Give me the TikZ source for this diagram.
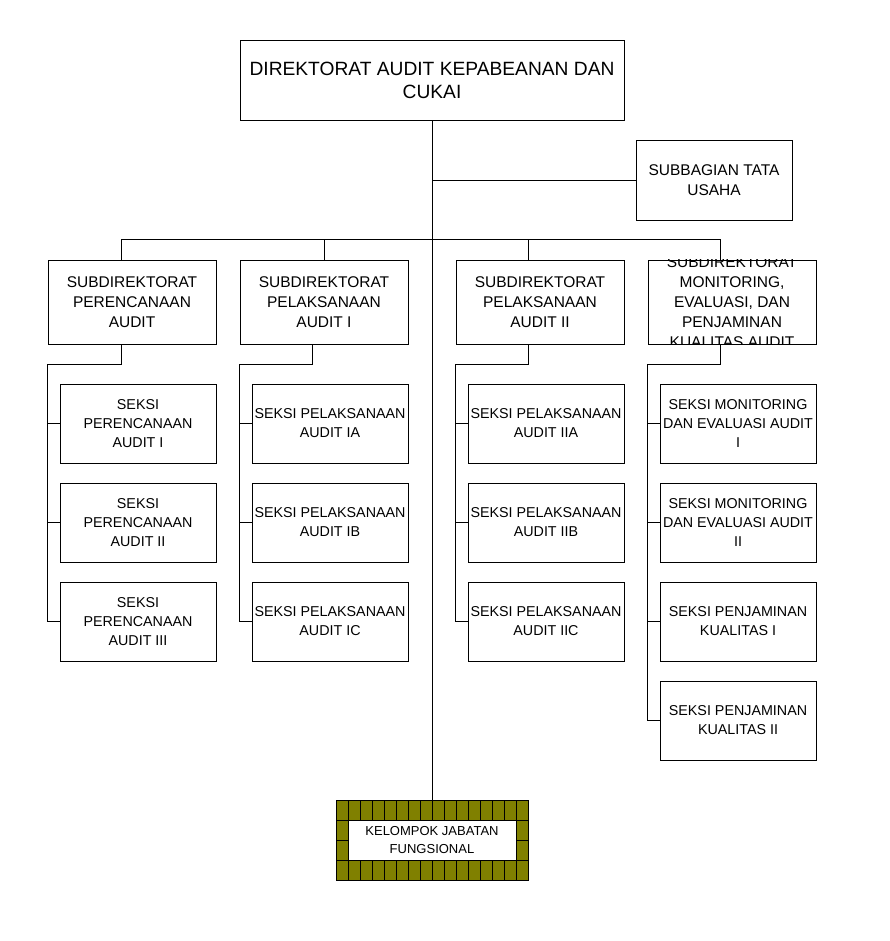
\documentclass[tikz,border=0pt]{standalone}
\usepackage{fontspec}
\setmainfont{Liberation Sans}
\usepackage{xcolor}
\usepackage{tikz}
\definecolor{kjolive}{RGB}{128,128,0}
\tikzset{
  unitbox/.style={draw, rectangle, align=center, inner sep=0pt},
  dirbox/.style={unitbox, minimum width=384pt, minimum height=80pt, font=\fontsize{19.2}{23}\selectfont},
  tubox/.style={unitbox, minimum width=156pt, minimum height=80pt, font=\fontsize{15.5}{20}\selectfont},
  subbox/.style={unitbox, minimum width=168pt, minimum height=84pt, font=\fontsize{15.5}{20}\selectfont},
  seksibox/.style={unitbox, minimum width=156pt, minimum height=79pt, font=\fontsize{14.3}{19}\selectfont},
}

\begin{document}
\begin{tikzpicture}[x=1pt, y=-1pt, line width=0.9pt]
    \useasboundingbox (0,0) rectangle (889,941);

    \node[dirbox] (dir) at (432,80) {DIREKTORAT AUDIT KEPABEANAN DAN\\CUKAI};
    \node[tubox] (tu) at (714,180) {SUBBAGIAN TATA\\USAHA};

    \node[subbox] (sub1) at (132,302) {SUBDIREKTORAT\\PERENCANAAN\\AUDIT};
    \node[subbox] (sub2) at (324,302) {SUBDIREKTORAT\\PELAKSANAAN\\AUDIT I};
    \node[subbox] (sub3) at (540,302) {SUBDIREKTORAT\\PELAKSANAAN\\AUDIT II};
    \node[subbox] (sub4) at (732,302) {};
    \begin{scope}
        \clip (sub4.north west) rectangle (sub4.south east);
        \node[align=center, inner sep=0pt, font=\fontsize{15.5}{20}\selectfont] at (sub4)
            {SUBDIREKTORAT\\MONITORING,\\EVALUASI, DAN\\PENJAMINAN\\KUALITAS AUDIT};
    \end{scope}

    % seksi
    \node[seksibox] (s11) at (138,423.5) {SEKSI\\PERENCANAAN\\AUDIT I};
    \node[seksibox] (s12) at (138,522.5) {SEKSI\\PERENCANAAN\\AUDIT II};
    \node[seksibox] (s13) at (138,621.5) {SEKSI\\PERENCANAAN\\AUDIT III};
    \node[seksibox] (s21) at (330,423.5) {SEKSI PELAKSANAAN\\AUDIT IA};
    \node[seksibox] (s22) at (330,522.5) {SEKSI PELAKSANAAN\\AUDIT IB};
    \node[seksibox] (s23) at (330,621.5) {SEKSI PELAKSANAAN\\AUDIT IC};
    \node[seksibox] (s31) at (546,423.5) {SEKSI PELAKSANAAN\\AUDIT IIA};
    \node[seksibox] (s32) at (546,522.5) {SEKSI PELAKSANAAN\\AUDIT IIB};
    \node[seksibox] (s33) at (546,621.5) {SEKSI PELAKSANAAN\\AUDIT IIC};
    \node[seksibox] (s41) at (738,423.5) {SEKSI MONITORING\\DAN EVALUASI AUDIT\\I};
    \node[seksibox] (s42) at (738,522.5) {SEKSI MONITORING\\DAN EVALUASI AUDIT\\II};
    \node[seksibox] (s43) at (738,621.5) {SEKSI PENJAMINAN\\KUALITAS I};
    \node[seksibox] (s44) at (738,720.5) {SEKSI PENJAMINAN\\KUALITAS II};

    % kelompok jabatan fungsional
    \node[draw, fill=kjolive, minimum width=192pt, minimum height=80pt, inner sep=0pt] (jf) at (432,840) {};
    \foreach \gx in {348,360,...,516}
        \draw (\gx,800) -- (\gx,880);
    \foreach \gy in {820,840,860}
        \draw (336,\gy) -- (528,\gy);
    \node[unitbox, fill=white, minimum width=168pt, minimum height=40pt, font=\fontsize{13}{18}\selectfont] (jfin) at (jf) {KELOMPOK JABATAN\\FUNGSIONAL};

    % connectors
    \draw (dir.south) -- (jf.north);
    \draw (dir.south |- tu.west) -- (tu.west);
    \draw ([xshift=-11pt]sub1.north) -- ++(0,-20) -| ([xshift=-12pt]sub4.north);
    \draw (sub2.north) -- ++(0,-20);
    \draw ([xshift=-12pt]sub3.north) -- ++(0,-20);

    \draw ([xshift=-11pt]sub1.south) -- ++(0,20) -| ([xshift=-12pt]s13.west) -- (s13.west);
    \draw ([xshift=-12pt]sub2.south) -- ++(0,20) -| ([xshift=-12pt]s23.west) -- (s23.west);
    \draw ([xshift=-12pt]sub3.south) -- ++(0,20) -| ([xshift=-12pt]s33.west) -- (s33.west);
    \draw ([xshift=-12pt]sub4.south) -- ++(0,20) -| ([xshift=-12pt]s44.west) -- (s44.west);
    \foreach \s in {s11,s12,s21,s22,s31,s32,s41,s42,s43}
        \draw (\s.west) -- ++(-12,0);
\end{tikzpicture}
\end{document}
